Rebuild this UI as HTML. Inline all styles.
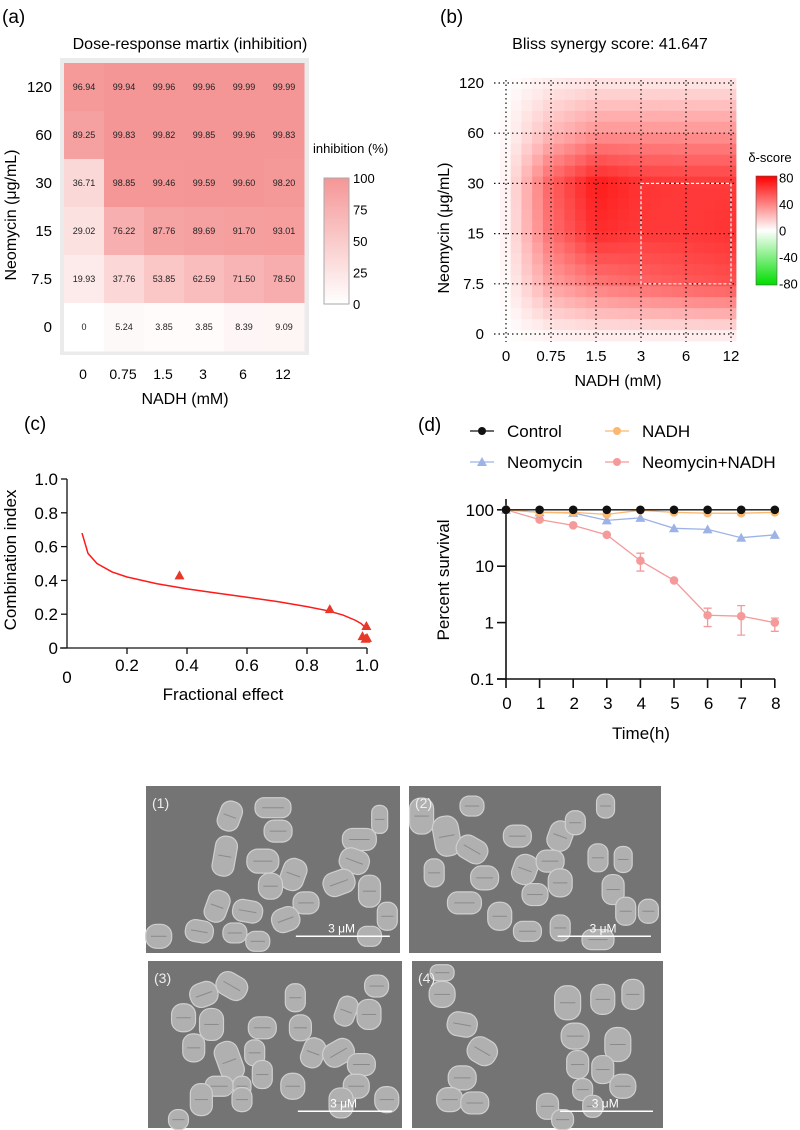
<!DOCTYPE html>
<html><head><meta charset="utf-8">
<style>
html,body{margin:0;padding:0;background:#fff;}
svg{display:block;font-family:"Liberation Sans",Arial,sans-serif;}
</style></head>
<body>
<svg id="fig" width="800" height="1130" viewBox="0 0 800 1130" xmlns="http://www.w3.org/2000/svg">
<g id="pa">
  <text x="2" y="23" font-size="19">(a)</text>
  <text x="190" y="49" font-size="16" text-anchor="middle">Dose-response martix (inhibition)</text>
  <rect x="60" y="58" width="249" height="297" fill="#ebebeb"/>
  <text transform="translate(16,215) rotate(-90)" font-size="16" text-anchor="middle">Neomycin (μg/mL)</text>
  <text x="185" y="404" font-size="16" text-anchor="middle">NADH (mM)</text>
  <text x="313" y="153" font-size="13">inhibition (%)</text>
  <defs>
    <linearGradient id="ga" x1="0" y1="1" x2="0" y2="0">
      <stop offset="0" stop-color="#ffffff"/><stop offset="1" stop-color="rgb(245,150,150)"/>
    </linearGradient>
    <linearGradient id="gb" x1="0" y1="1" x2="0" y2="0">
      <stop offset="0" stop-color="#00dd00"/><stop offset="0.5" stop-color="#ffffff"/><stop offset="1" stop-color="#ff0000"/>
    </linearGradient>
  </defs>
  <rect x="324" y="178" width="25" height="126" fill="url(#ga)" stroke="#aaa" stroke-width="1"/>
</g>
<g id="paCells"></g>
<g id="pb">
  <text x="440" y="23" font-size="19">(b)</text>
  <text x="610" y="49" font-size="16" text-anchor="middle">Bliss synergy score: 41.647</text>
  <text transform="translate(449,228) rotate(-90)" font-size="16" text-anchor="middle">Neomycin (μg/mL)</text>
  <text x="618" y="386" font-size="16" text-anchor="middle">NADH (mM)</text>
  <text x="770" y="162" font-size="13" text-anchor="middle">δ-score</text>
  <rect x="756" y="176" width="21" height="109" fill="url(#gb)" stroke="#555" stroke-width="0.6"/>
</g>
<g id="pbCells"></g>
<g id="pbGrid"></g>
<g id="pc">
  <text x="24" y="430" font-size="19">(c)</text>
  <text transform="translate(16,560) rotate(-90)" font-size="17" text-anchor="middle">Combination index</text>
  <text x="223" y="700" font-size="17" text-anchor="middle">Fractional effect</text>
</g>
<g id="pcPlot"></g>
<g id="pd">
  <text x="418" y="431" font-size="19">(d)</text>
  <text transform="translate(449,580) rotate(-90)" font-size="17" text-anchor="middle">Percent survival</text>
  <text x="641" y="739" font-size="17" text-anchor="middle">Time(h)</text>
</g>
<g id="pdPlot"></g>
<g id="pe"></g>
</svg>
<script>
const NS = "http://www.w3.org/2000/svg";
function mk(tag, attrs, parent) {
  const el = document.createElementNS(NS, tag);
  for (const k in attrs) el.setAttribute(k, attrs[k]);
  parent.appendChild(el);
  return el;
}

/* ===== Panel A data ===== */
const aCols = ["0","0.75","1.5","3","6","12"];
const aRows = ["120","60","30","15","7.5","0"];
const aVals = [
  [96.94,99.94,99.96,99.96,99.99,99.99],
  [89.25,99.83,99.82,99.85,99.96,99.83],
  [36.71,98.85,99.46,99.59,99.60,98.20],
  [29.02,76.22,87.76,89.69,91.70,93.01],
  [19.93,37.76,53.85,62.59,71.50,78.50],
  [0,5.24,3.85,3.85,8.39,9.09]
];
const aValLabels = [
  ["96.94","99.94","99.96","99.96","99.99","99.99"],
  ["89.25","99.83","99.82","99.85","99.96","99.83"],
  ["36.71","98.85","99.46","99.59","99.60","98.20"],
  ["29.02","76.22","87.76","89.69","91.70","93.01"],
  ["19.93","37.76","53.85","62.59","71.50","78.50"],
  ["0","5.24","3.85","3.85","8.39","9.09"]
];
const aBarTicks = [0,25,50,75,100];
(function(){
  const g = document.getElementById("paCells");
  const x0=64, y0=63, cw=40, ch=48;
  function col(v){const t=Math.max(0,Math.min(1,v/100));
    return `rgb(${Math.round(255-10*t)},${Math.round(255-105*t)},${Math.round(255-105*t)})`;}
  aVals.forEach((row,r)=>row.forEach((v,c)=>{
    const rc = mk("rect",{x:x0+c*cw,y:y0+r*ch,width:cw+0.5,height:ch+0.5,fill:col(v)},g);
    
    
    const t = mk("text",{x:x0+c*cw+cw/2,y:y0+r*ch+ch/2+3,"font-size":"9","text-anchor":"middle",fill:"#222"},g);
    t.textContent = aValLabels[r][c];
    
    
  }));
  aRows.forEach((lab,r)=>{
    const t = mk("text",{x:52,y:y0+r*ch+ch/2+5,"font-size":"15","text-anchor":"end"},g);
    t.textContent = lab;
    
    
  });
  aCols.forEach((lab,c)=>{
    const t = mk("text",{x:x0+c*cw+cw/2-1,y:379,"font-size":"14","text-anchor":"middle"},g);
    t.textContent = lab;
    
    
  });
  aBarTicks.forEach(v=>{
    const y = 304 - v/100*126;
    const t = mk("text",{x:353,y:y+5,"font-size":"13"},g);
    t.textContent = String(v);
    
    
  });
})();

/* ===== Panel B data ===== */
const bCols = ["0","0.75","1.5","3","6","12"];
const bRows = ["0","7.5","15","30","60","120"];
const bRow0   = [0, 4, 6, 6, 6, 6];
const bRow7   = [2, 30, 42, 48, 52, 55];
const bRow15  = [4, 45, 66, 62, 62, 64];
const bRow30  = [4, 50, 72, 64, 62, 62];
const bRow60  = [2, 22, 34, 34, 34, 34];
const bRow120 = [0, 6, 9, 9, 9, 9];
const bBarTicks = [80,40,0,-40,-80];
(function(){
  const M = [bRow0,bRow7,bRow15,bRow30,bRow60,bRow120];
  const g = document.getElementById("pbCells");
  const gx0=506, gdx=45, gy0=334, gdy=50.2;
  function val(fx,fy){
    fx=Math.max(0,Math.min(5,fx)); fy=Math.max(0,Math.min(5,fy));
    const i=Math.min(4,Math.floor(fx)), j=Math.min(4,Math.floor(fy));
    const u=fx-i, w=fy-j;
    return M[j][i]*(1-u)*(1-w)+M[j][i+1]*u*(1-w)+M[j+1][i]*(1-u)*w+M[j+1][i+1]*u*w;
  }
  function col(v){
    if(v>=0){const t=Math.min(1,v/80);return `rgb(255,${Math.round(255*(1-t))},${Math.round(255*(1-t))})`;}
    const t=Math.min(1,-v/80);return `rgb(${Math.round(255*(1-t))},${Math.round(255-34*t)},${Math.round(255*(1-t))})`;
  }
  const left=500,right=736,top=78,bot=341, nx=22, ny=24;
  const cw=(right-left)/nx, ch=(bot-top)/ny;
  for(let r=0;r<ny;r++)for(let c=0;c<nx;c++){
    const cx=left+(c+0.5)*cw, cy=top+(r+0.5)*ch;
    const v=val((cx-gx0)/gdx,(gy0-cy)/gdy);
    const rc=mk("rect",{x:left+c*cw,y:top+r*ch,width:cw+0.4,height:ch+0.4,fill:col(v)},g);
    
    
  }
  const gg=document.getElementById("pbGrid");
  for(let i=0;i<6;i++){
    const x=gx0+i*gdx;
    const l=mk("line",{x1:x,y1:80,x2:x,y2:342,stroke:"#111","stroke-width":1.2,"stroke-dasharray":"1.5,3"},gg);
    
    
    const t=mk("text",{x:x,y:361,"font-size":"15","text-anchor":"middle"},gg);
    t.textContent=bCols[i];
    
    
  }
  for(let j=0;j<6;j++){
    const y=gy0-j*gdy;
    const l=mk("line",{x1:494,y1:y,x2:736,y2:y,stroke:"#111","stroke-width":1.2,"stroke-dasharray":"1.5,3"},gg);
    
    
    const t=mk("text",{x:484,y:y+5,"font-size":"15","text-anchor":"end"},gg);
    t.textContent=bRows[j];
    
    
  }
  const box=mk("rect",{x:gx0+3*gdx,y:gy0-3*gdy,width:2*gdx,height:2*gdy,fill:"none",stroke:"#fff","stroke-width":1.2,"stroke-dasharray":"3,2"},gg);
  
  
  bBarTicks.forEach(v=>{
    const y=230.5 - v/80*53;
    const t=mk("text",{x:779,y:y+5,"font-size":"13"},gg);
    t.textContent=String(v);
    
    
  });
})();

/* ===== Panel C data ===== */
const cCurveFa = [0.05,0.07,0.1,0.15,0.2,0.3,0.4,0.5,0.6,0.7,0.8,0.87,0.92,0.96,0.98,0.995];
const cCurveCI = [0.68,0.56,0.50,0.45,0.42,0.38,0.35,0.325,0.30,0.275,0.245,0.22,0.195,0.165,0.145,0.12];
const cPtFa = [0.375,0.876,0.998,0.985,1.0,0.995];
const cPtCI = [0.43,0.23,0.13,0.07,0.06,0.055];
const cXTicks = ["0.2","0.4","0.6","0.8","1.0"];
const cYTicks = ["0","0.2","0.4","0.6","0.8","1.0"];
(function(){
  const g=document.getElementById("pcPlot");
  const X=v=>67+v*300, Y=v=>648-v*169;
  let l=mk("line",{x1:67,y1:479,x2:67,y2:648,stroke:"#111","stroke-width":1.3},g);
   
  l=mk("line",{x1:60,y1:648,x2:367,y2:648,stroke:"#111","stroke-width":1.3},g);
   
  cYTicks.forEach(s=>{const v=parseFloat(s);
    const tk=mk("line",{x1:61,y1:Y(v),x2:67,y2:Y(v),stroke:"#111","stroke-width":1.3},g);
     
    const t=mk("text",{x:58,y:Y(v)+6,"font-size":"17","text-anchor":"end"},g);
    t.textContent=s;  
  });
  cXTicks.forEach(s=>{const v=parseFloat(s);
    const tk=mk("line",{x1:X(v),y1:648,x2:X(v),y2:654,stroke:"#111","stroke-width":1.3},g);
     
    const t=mk("text",{x:X(v),y:671,"font-size":"17","text-anchor":"middle"},g);
    t.textContent=s;  
  });
  let t0=mk("text",{x:67,y:683,"font-size":"17","text-anchor":"middle"},g);
  t0.textContent="0";  
  const pts=cCurveFa.map((f,i)=>X(f)+","+Y(cCurveCI[i])).join(" ");
  const pl=mk("polyline",{points:pts,fill:"none",stroke:"#ff1a1a","stroke-width":1.5},g);
   
  cPtFa.forEach((f,i)=>{const x=X(f),y=Y(cPtCI[i]);
    const p=mk("polygon",{points:`${x},${y-5} ${x-5},${y+4} ${x+5},${y+4}`,fill:"#e8382a"},g);
     
  });
})();

/* ===== Panel D data ===== */
const dTime = [0,1,2,3,4,5,6,7,8];
const dControl = [100,100,100,100,100,100,100,100,100];
const dNADH = [100,90,90,83,98,90,87,87,90];
const dNeo = [100,90,88,65,72,47,45,32,36];
const dCombo = [100,67,53,36,12.5,5.6,1.35,1.3,1.0];
const dComboLo = [100,67,53,36,8.2,5.6,0.85,0.6,0.7];
const dComboHi = [100,67,53,36,17,5.6,1.8,2.0,1.2];
const dYTicks = ["0.1","1","10","100"];
(function(){
  const g=document.getElementById("pdPlot");
  const X=t=>506+t*33.6, Y=v=>679-(Math.log10(v)+1)*56.4;
  let l=mk("line",{x1:506,y1:499,x2:506,y2:679,stroke:"#111","stroke-width":1.6},g);
   
  l=mk("line",{x1:497,y1:679,x2:775,y2:679,stroke:"#111","stroke-width":1.6},g);
   
  dYTicks.forEach(s=>{const v=parseFloat(s);
    const tk=mk("line",{x1:497,y1:Y(v),x2:506,y2:Y(v),stroke:"#111","stroke-width":1.6},g);
     
    const t=mk("text",{x:494,y:Y(v)+6,"font-size":"17","text-anchor":"end"},g);
    t.textContent=s;  
  });
  dTime.forEach(tv=>{
    const tk=mk("line",{x1:X(tv),y1:679,x2:X(tv),y2:688,stroke:"#111","stroke-width":1.6},g);
     
    const t=mk("text",{x:X(tv)+1,y:709,"font-size":"17","text-anchor":"middle"},g);
    t.textContent=String(tv);  
  });
  dTime.forEach((tv,i)=>{
    if(dComboHi[i]!==dComboLo[i]){
      const x=X(tv);
      const e=mk("path",{d:`M${x},${Y(dComboLo[i])}V${Y(dComboHi[i])}M${x-4},${Y(dComboLo[i])}H${x+4}M${x-4},${Y(dComboHi[i])}H${x+4}`,stroke:"#f59a9a","stroke-width":1.3,fill:"none"},g);
       
    }
  });
  function series(vals,color,shape,name){
    const pl=mk("polyline",{points:dTime.map((t,i)=>X(t)+","+Y(vals[i])).join(" "),fill:"none",stroke:color,"stroke-width":1.3},g);
     
    dTime.forEach((t,i)=>{const x=X(t),y=Y(vals[i]);
      let m;
      if(shape==="tri") m=mk("polygon",{points:`${x},${y-5} ${x-5},${y+4} ${x+5},${y+4}`,fill:color},g);
      else m=mk("circle",{cx:x,cy:y,r:4.3,fill:color},g);
       
    });
  }
  series(dNeo,"#9db3e8","tri","neomycin");
  series(dCombo,"#f59a9a","circ","neomycin-nadh");
  series(dNADH,"#fbb870","circ","nadh");
  series(dControl,"#111","circ","control");
  const leg=[["Control","#111","circ",482,431],["NADH","#fbb870","circ",617,431],["Neomycin","#9db3e8","tri",482,462],["Neomycin+NADH","#f59a9a","circ",617,462]];
  leg.forEach(([lab,color,shape,x,y])=>{
    const ln=mk("line",{x1:x-12,y1:y,x2:x+12,y2:y,stroke:color,"stroke-width":1.3},g);
     
    let m;
    if(shape==="tri") m=mk("polygon",{points:`${x},${y-5} ${x-5},${y+4} ${x+5},${y+4}`,fill:color},g);
    else m=mk("circle",{cx:x,cy:y,r:4,fill:color},g);
     
    const t=mk("text",{x:x+25,y:y+6,"font-size":"17"},g);
    t.textContent=lab;  
  });
})();

/* ===== Panel E: SEM images (illustrative) ===== */
(function(){
  const g=document.getElementById("pe");
  const imgs=[["(1)",146,786,254,167],["(2)",409,786,252,167],["(3)",148,961,254,167],["(4)",412,961,251,167]];
  const blobs=[
    [[0.33,0.18,11,15,20],[0.5,0.13,18,10,0],[0.52,0.27,14,11,0],[0.31,0.42,11,20,10],[0.46,0.45,16,12,0],[0.58,0.53,12,16,20],[0.49,0.6,12,13,0],[0.63,0.7,13,11,0],[0.55,0.8,14,12,-20],[0.4,0.75,15,11,10],[0.28,0.72,11,16,20],[0.21,0.87,14,11,10],[0.35,0.88,12,10,0],[0.44,0.93,12,10,0],[0.84,0.32,17,11,0],[0.82,0.45,15,12,20],[0.76,0.58,16,12,-20],[0.88,0.63,11,16,0],[0.95,0.78,10,14,0],[0.05,0.9,13,12,0],[0.92,0.2,8,14,0],[0.88,0.9,12,10,0]],
    [[0.05,0.18,12,18,0],[0.15,0.3,13,20,-10],[0.1,0.52,10,14,0],[0.25,0.38,16,12,30],[0.3,0.55,14,12,0],[0.22,0.7,17,11,0],[0.36,0.78,12,14,0],[0.43,0.3,14,11,0],[0.46,0.5,12,15,20],[0.5,0.65,13,11,0],[0.56,0.45,14,11,0],[0.6,0.3,12,15,20],[0.6,0.58,12,14,0],[0.66,0.22,10,12,0],[0.78,0.12,9,12,0],[0.75,0.43,10,14,0],[0.85,0.44,9,13,0],[0.81,0.62,11,15,0],[0.86,0.75,10,14,0],[0.95,0.75,10,12,0],[0.47,0.87,14,10,0],[0.6,0.85,10,13,0],[0.75,0.92,16,10,0],[0.25,0.12,12,10,0]],
    [[0.22,0.2,14,12,-20],[0.33,0.15,16,12,30],[0.14,0.34,12,14,0],[0.25,0.38,12,16,0],[0.18,0.52,11,14,0],[0.32,0.6,12,20,-20],[0.28,0.75,14,10,0],[0.45,0.4,14,11,0],[0.42,0.55,10,13,0],[0.45,0.68,10,14,0],[0.58,0.22,10,14,0],[0.6,0.4,11,13,0],[0.65,0.55,11,15,20],[0.57,0.75,12,13,0],[0.75,0.55,16,12,-30],[0.78,0.3,10,15,20],[0.87,0.32,12,15,0],[0.9,0.15,12,11,0],[0.84,0.62,14,11,0],[0.82,0.75,13,12,0],[0.76,0.85,12,15,0],[0.21,0.83,11,16,0],[0.37,0.75,9,10,0],[0.37,0.83,10,12,0],[0.94,0.83,12,13,0],[0.12,0.95,10,10,0]],
    [[0.12,0.07,12,8,0],[0.12,0.2,13,13,0],[0.2,0.38,15,12,10],[0.28,0.54,15,13,30],[0.2,0.7,14,12,0],[0.15,0.83,13,12,0],[0.25,0.85,14,11,0],[0.62,0.25,13,17,0],[0.76,0.23,12,15,0],[0.88,0.2,11,15,0],[0.65,0.45,14,13,0],[0.82,0.5,13,17,0],[0.66,0.62,11,14,0],[0.76,0.65,11,14,0],[0.84,0.75,13,12,0],[0.68,0.77,10,11,0],[0.72,0.87,10,11,0],[0.54,0.87,11,13,0],[0.6,0.95,11,10,0]]
  ];
  imgs.forEach(([lab,x,y,w,h],k)=>{
    const r=mk("rect",{x:x,y:y,width:w,height:h,fill:"#747474"},g);
     
    blobs[k].forEach(([fx,fy,rx,ry,rot])=>{
      const cx=x+fx*w, cy=y+fy*h;
      const e=mk("rect",{x:cx-rx,y:cy-ry,width:2*rx,height:2*ry,rx:Math.min(rx,ry)*0.9,fill:"#b0b0b0",stroke:"#cfcfcf","stroke-width":1.2,transform:`rotate(${rot} ${cx} ${cy})`},g);
       
      const s=mk("line",{x1:cx-rx*0.6,y1:cy,x2:cx+rx*0.6,y2:cy,stroke:"#8a8a8a","stroke-width":1,transform:`rotate(${rot} ${cx} ${cy})`},g);
       
    });
    const t=mk("text",{x:x+6,y:y+22,"font-size":"14",fill:"#eee"},g);
    t.textContent=lab;  
    const sb=mk("line",{x1:x+w*0.59,y1:y+h*0.9,x2:x+w*0.96,y2:y+h*0.9,stroke:"#fff","stroke-width":1.5},g);
     
    const st=mk("text",{x:x+w*0.77,y:y+h*0.9-4,"font-size":"12",fill:"#fff","text-anchor":"middle"},g);
    st.textContent="3 μM";  
  });
})();
</script>
</body></html>
